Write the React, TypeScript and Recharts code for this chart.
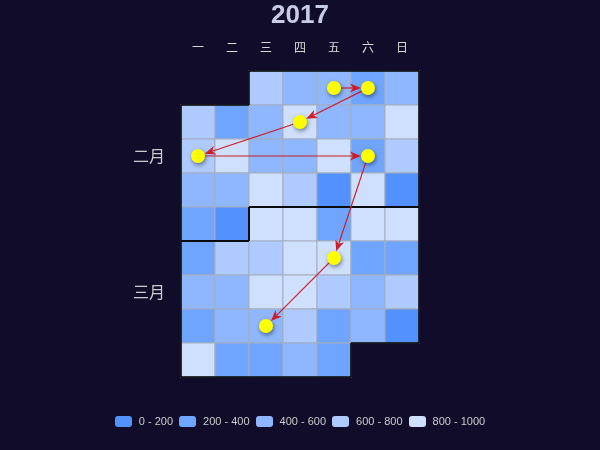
import React from 'react';
import { ScatterChart, Scatter, XAxis, YAxis, ReferenceLine } from 'recharts';

const title = '2017';
const weekDays = ['一', '二', '三', '四', '五', '六', '日'];
const monthNames = ['二月', '三月'];

// daily values, Feb 1 .. Feb 28 and Mar 1 .. Mar 31
const febValues = [
  690, 480, 520, 310, 460,
  650, 280, 530, 870, 440, 560, 910,
  620, 850, 470, 510, 820, 240, 730,
  450, 540, 890, 670, 120, 840, 90,
  330, 150,
];
const marValues = [
  930, 860, 260, 810, 950,
  290, 640, 710, 880, 830, 350, 270,
  420, 570, 900, 860, 680, 490, 720,
  300, 450, 530, 660, 250, 510, 170,
  960, 340, 220, 580, 380,
];

const pieceLabels = ['0 - 200', '200 - 400', '400 - 600', '600 - 800', '800 - 1000'];
const pieceMins = [0, 200, 400, 600, 800];
const pieceColors = ['#5391ff', '#70a5ff', '#8eb7ff', '#aecaff', '#cfe0ff'];

const graphDates = ['2017-02-03', '2017-02-04', '2017-02-09', '2017-02-13', '2017-02-18', '2017-03-10', '2017-03-22'];
const graphValues = [260, 200, 279, 847, 241, 411, 985];

const DAY = 86400000;
const START = Date.UTC(2017, 1, 1);
const weekCol = (t: number) => (new Date(t).getUTCDay() + 6) % 7;
const startCol = weekCol(START);

function cellOf(t: number) {
  const i = Math.round((t - START) / DAY);
  return { col: weekCol(t), row: Math.floor((i + startCol) / 7) };
}

function colorOf(v: number) {
  let c = pieceColors[0];
  pieceMins.forEach((m, i) => {
    if (v >= m) c = pieceColors[i];
  });
  return c;
}

const allValues = [...febValues, ...marValues];
const heatData = allValues.map((value, i) => {
  const { col, row } = cellOf(START + i * DAY);
  return { x: col + 0.5, y: row + 0.5, value };
});

const nodeData = graphDates.map((d, i) => {
  const { col, row } = cellOf(Date.parse(d + 'T00:00:00Z'));
  return { x: col + 0.5, y: row + 0.5, value: graphValues[i] };
});
const links = nodeData.slice(1).map((n, i) => [nodeData[i], n]);

// month outlines
const monthRanges = [
  [Date.UTC(2017, 1, 1), Date.UTC(2017, 1, 28)],
  [Date.UTC(2017, 2, 1), Date.UTC(2017, 2, 31)],
];
const monthSegments: { x: number; y: number }[][] = [];
const monthTicks: number[] = [];
monthRanges.forEach(([a, b]) => {
  const s = cellOf(a);
  const e = cellOf(b);
  const pts = [
    [s.col, s.row], [7, s.row], [7, e.row], [e.col + 1, e.row],
    [e.col + 1, e.row + 1], [0, e.row + 1], [0, s.row + 1], [s.col, s.row + 1],
  ];
  pts.forEach((p, i) => {
    const q = pts[(i + 1) % pts.length];
    monthSegments.push([{ x: p[0], y: p[1] }, { x: q[0], y: q[1] }]);
  });
  monthTicks.push((s.row + e.row + 1) / 2);
});

const CELL = 34;
const NODE_R = 7;
const EDGE_COLOR = '#cc1f2a';

function Cell(props: any) {
  const { cx, cy, payload } = props;
  return (
    <rect
      x={cx - CELL / 2}
      y={cy - CELL / 2}
      width={CELL}
      height={CELL}
      fill={colorOf(payload.value)}
      stroke="#a4adbf"
      strokeWidth={1}
    />
  );
}

function Node(props: any) {
  const { cx, cy } = props;
  return (
    <circle cx={cx} cy={cy} r={NODE_R} fill="#ffff00"
      style={{ filter: 'drop-shadow(1px 2px 2px rgba(0,0,0,0.45))' }} />
  );
}

function Edge(props: any) {
  const { x1, y1, x2, y2 } = props;
  const dx = x2 - x1;
  const dy = y2 - y1;
  const len = Math.hypot(dx, dy) || 1;
  const ux = dx / len;
  const uy = dy / len;
  const nx = -uy;
  const ny = ux;
  const sx = x1 + ux * NODE_R;
  const sy = y1 + uy * NODE_R;
  const tx = x2 - ux * NODE_R;
  const ty = y2 - uy * NODE_R;
  const L = 11;
  const W = 4.5;
  const notch = 3;
  const bx = tx - ux * L;
  const by = ty - uy * L;
  const mx = tx - ux * (L - notch);
  const my = ty - uy * (L - notch);
  const d = `M${tx},${ty} L${bx + nx * W},${by + ny * W} L${mx},${my} L${bx - nx * W},${by - ny * W} Z`;
  return (
    <g>
      <line x1={sx} y1={sy} x2={mx} y2={my} stroke={EDGE_COLOR} strokeWidth={1.2} />
      <path d={d} fill={EDGE_COLOR} />
    </g>
  );
}

export default function App() {
  return (
    <div
      style={{
        position: 'fixed', left: 0, top: 0, width: 600, height: 450,
        background: '#100c2a', fontFamily: '"Liberation Sans", "Noto Sans CJK SC", sans-serif',
      }}
    >
      <div
        style={{
          position: 'absolute', top: 1, left: 0, width: 600, textAlign: 'center',
          fontSize: 26, lineHeight: '26px', fontWeight: 'bold', color: '#c9cae3',
        }}
      >
        {title}
      </div>
      <div style={{ position: 'absolute', left: 0, top: 0 }}>
        <ScatterChart width={600} height={450} margin={{ top: 41, right: 181, bottom: 73, left: 121 }}>
          <XAxis
            type="number"
            dataKey="x"
            orientation="top"
            domain={[0, 7]}
            ticks={weekDays.map((_, i) => i + 0.5)}
            tickFormatter={(v: number) => weekDays[Math.floor(v)]}
            interval={0}
            height={30}
            axisLine={false}
            tickLine={false}
            tickSize={0}
            tickMargin={19}
            tick={{ fill: '#dadada', fontSize: 12 }}
          />
          <YAxis
            type="number"
            dataKey="y"
            domain={[0, 9]}
            reversed
            ticks={monthTicks}
            tickFormatter={(v: number) => monthNames[monthTicks.indexOf(v)]}
            interval={0}
            width={60}
            axisLine={false}
            tickLine={false}
            tickSize={0}
            tickMargin={16}
            tick={{ fill: '#cccccc', fontSize: 16 }}
          />
          <Scatter data={heatData} shape={Cell} isAnimationActive={false} zIndex={100} />
          {monthSegments.map((seg, i) => (
            <ReferenceLine key={'m' + i} segment={seg} stroke="#000" strokeWidth={1.5}
              ifOverflow="visible" zIndex={650} />
          ))}
          {links.map(([a, b], i) => (
            <ReferenceLine key={'e' + i} segment={[{ x: a.x, y: a.y }, { x: b.x, y: b.y }]}
              ifOverflow="visible" shape={Edge} zIndex={700} />
          ))}
          <Scatter data={nodeData} shape={Node} isAnimationActive={false} zIndex={800} />
        </ScatterChart>
      </div>
      <div
        style={{
          position: 'absolute', top: 416, left: 0, width: 600, display: 'flex',
          justifyContent: 'center', alignItems: 'center', gap: 6,
        }}
      >
        {pieceLabels.map((label, i) => (
          <div key={label} style={{ display: 'flex', alignItems: 'center' }}>
            <span
              style={{
                display: 'inline-block', width: 17, height: 11, borderRadius: 3,
                background: pieceColors[i], marginRight: 7,
              }}
            />
            <span style={{ fontSize: 11, color: '#cccccc', lineHeight: '11px' }}>{label}</span>
          </div>
        ))}
      </div>
    </div>
  );
}
